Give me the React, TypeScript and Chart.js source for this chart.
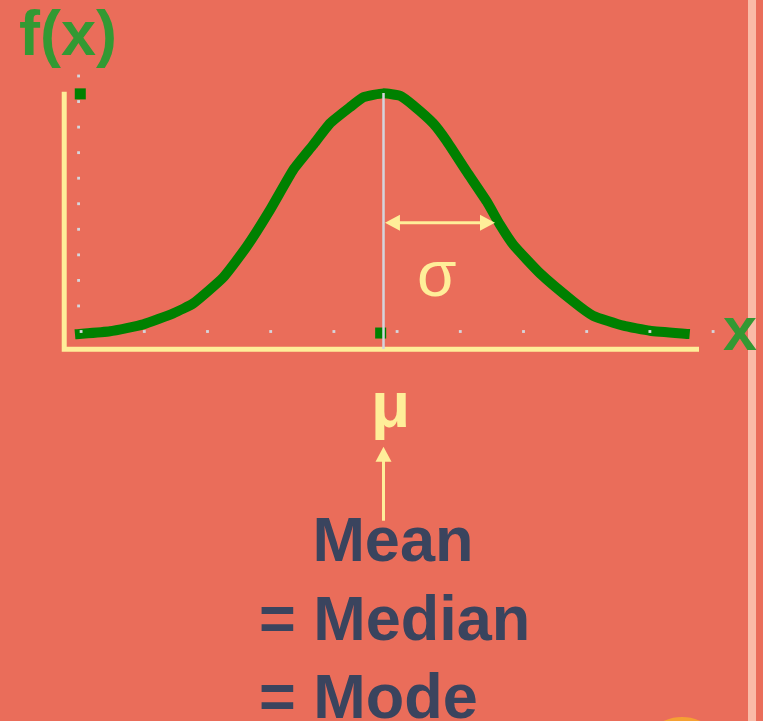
import React, { useEffect, useRef } from "react";
import { Chart, registerables } from "chart.js";

Chart.register(...registerables);

// ---- data (grid units: x ticks 0..10, y ticks 0..10) ----
const curveX = [-0.097, 0.457, 0.984, 1.459, 1.775, 2.25, 2.62, 2.99, 3.36, 3.67, 3.94, 4.25, 4.47, 4.78, 5.05, 5.26, 5.57, 5.78, 6.1, 6.42, 6.63, 6.84, 7.26, 7.79, 8.1, 8.58, 9.0, 9.63];
const curveY = [-0.11, 0.01, 0.28, 0.71, 1.1, 2.12, 3.32, 4.76, 6.34, 7.3, 8.15, 8.77, 9.17, 9.32, 9.22, 8.84, 8.15, 7.47, 6.26, 5.08, 4.17, 3.39, 2.28, 1.17, 0.62, 0.23, 0.03, -0.1];

const markerX = [-0.013, 4.74];
const markerY = [9.3, -0.06];

const gridDotX = [0, 1, 2, 3, 4, 5, 6, 7, 8, 9, 10];
const gridDotY = [1, 2, 3, 4, 5, 6, 7, 8, 9, 10];
const gridDotColumnX = -0.04;

const meanLineX = [4.785, 4.785];
const meanLineY = [9.335, -0.685];

const axisLineX = [-0.267, -0.267, 9.777];
const axisLineY = [9.386, -0.693, -0.693];

const sigmaArrowX = [4.808, 6.549];
const sigmaArrowY = [4.258, 4.258];
const muArrowX = [4.785, 4.785];
const muArrowY = [-7.405, -4.509];

const labelFx = "f(x)";
const labelX = "x";
const labelSigma = "σ";
const labelMu = "μ";
const labelLines = ["Mean", "= Median", "= Mode"];

// ---- styles ----
const BG = "#EA6D5A";
const YELLOW = "#FFEE99";
const GREEN = "#008000";
const TEXT_GREEN = "#339933";
const NAVY = "#3A445E";
const FONT = "'Liberation Sans', Arial, sans-serif";

const toPts = (xs: number[], ys: number[]) => xs.map((x, i) => ({ x, y: ys[i] }));

const arrowPlugin = {
  id: "arrows",
  afterDatasetsDraw(chart: any) {
    const { ctx } = chart;
    const sx = chart.scales.x;
    const sy = chart.scales.y;
    const headLen = 15;
    const headHalf = 8;
    const drawArrow = (xs: number[], ys: number[], both: boolean) => {
      const x0 = sx.getPixelForValue(xs[0]);
      const y0 = sy.getPixelForValue(ys[0]);
      const x1 = sx.getPixelForValue(xs[1]);
      const y1 = sy.getPixelForValue(ys[1]);
      const len = Math.hypot(x1 - x0, y1 - y0);
      const ux = (x1 - x0) / len;
      const uy = (y1 - y0) / len;
      ctx.save();
      ctx.strokeStyle = YELLOW;
      ctx.fillStyle = YELLOW;
      ctx.lineWidth = 3;
      ctx.beginPath();
      ctx.moveTo(both ? x0 + ux * headLen * 0.5 : x0, both ? y0 + uy * headLen * 0.5 : y0);
      ctx.lineTo(x1 - ux * headLen * 0.5, y1 - uy * headLen * 0.5);
      ctx.stroke();
      const head = (tx: number, ty: number, dx: number, dy: number) => {
        ctx.beginPath();
        ctx.moveTo(tx, ty);
        ctx.lineTo(tx - dx * headLen - dy * headHalf, ty - dy * headLen + dx * headHalf);
        ctx.lineTo(tx - dx * headLen + dy * headHalf, ty - dy * headLen - dx * headHalf);
        ctx.closePath();
        ctx.fill();
      };
      head(x1, y1, ux, uy);
      if (both) head(x0, y0, -ux, -uy);
      ctx.restore();
    };
    drawArrow(sigmaArrowX, sigmaArrowY, true);
    drawArrow(muArrowX, muArrowY, false);
  },
};

function Label(props: { text: string; left: number; baseline: number; size: number; weight: number; color: string }) {
  const { text, left, baseline, size, weight, color } = props;
  return (
    <div
      style={{
        position: "absolute",
        left,
        top: baseline - 0.8465 * size,
        fontSize: size,
        lineHeight: `${size}px`,
        fontWeight: weight,
        color,
        whiteSpace: "pre",
        fontFamily: FONT,
      }}
    >
      {text}
    </div>
  );
}

export default function App() {
  const ref = useRef<HTMLCanvasElement>(null);

  useEffect(() => {
    const dots = [
      ...gridDotX.map((x) => ({ x, y: 0 })),
      ...gridDotY.map((y) => ({ x: gridDotColumnX, y })),
    ];
    const chart = new Chart(ref.current as HTMLCanvasElement, {
      type: "line",
      data: {
        datasets: [
          {
            label: "mean",
            data: toPts(meanLineX, meanLineY),
            borderColor: "#D4D4DC",
            borderWidth: 2.5,
            pointRadius: 0,
            clip: false as any,
          },
          {
            label: "grid",
            data: dots,
            showLine: false,
            pointStyle: "rect",
            pointRadius: 2,
            pointBackgroundColor: "#D6D6DC",
            pointBorderWidth: 0,
            clip: false as any,
          },
          {
            label: "markers",
            data: toPts(markerX, markerY),
            showLine: false,
            pointStyle: "rect",
            pointRadius: 7.8,
            pointBackgroundColor: GREEN,
            pointBorderWidth: 0,
            clip: false as any,
          },
          {
            label: "f(x)",
            data: toPts(curveX, curveY),
            borderColor: GREEN,
            borderWidth: 10,
            pointRadius: 0,
            tension: 0.15,
            borderCapStyle: "butt",
            borderJoinStyle: "round",
            clip: false as any,
          },
          {
            label: "axes",
            data: toPts(axisLineX, axisLineY),
            borderColor: YELLOW,
            borderWidth: 5,
            pointRadius: 0,
            borderJoinStyle: "miter",
            borderCapStyle: "butt",
            clip: false as any,
          },
        ],
      },
      options: {
        responsive: false,
        animation: false,
        events: [],
        layout: { padding: 0, autoPadding: false },
        plugins: { legend: { display: false }, tooltip: { enabled: false } },
        scales: {
          x: { type: "linear", min: -1.2832, max: 10.7896, display: false },
          y: { type: "linear", min: -15.2446, max: 12.9746, display: false },
        },
      },
      plugins: [arrowPlugin],
    });
    return () => chart.destroy();
  }, []);

  return (
    <div
      style={{
        position: "absolute",
        left: 0,
        top: 0,
        width: 763,
        height: 721,
        background: BG,
        overflow: "hidden",
        fontFamily: FONT,
      }}
    >
      <div style={{ position: "absolute", left: 748, top: 0, width: 8, height: 721, background: "#FABBA7" }} />
      <div
        style={{
          position: "absolute",
          left: 637,
          top: 717,
          width: 90,
          height: 90,
          borderRadius: "50%",
          background: "#F5A033",
        }}
      />
      <canvas ref={ref} width={763} height={721} style={{ position: "absolute", left: 0, top: 0 }} />
      <Label text={labelFx} left={19} baseline={55.5} size={63} weight={700} color={TEXT_GREEN} />
      <Label text={labelX} left={723} baseline={350.7} size={61} weight={700} color={TEXT_GREEN} />
      <Label text={labelSigma} left={417} baseline={296} size={64} weight={400} color={YELLOW} />
      <Label text={labelMu} left={371} baseline={427} size={64} weight={700} color={YELLOW} />
      <Label text={labelLines[0]} left={312.4} baseline={561.7} size={63} weight={700} color={NAVY} />
      <Label text={labelLines[1]} left={259} baseline={640} size={63} weight={700} color={NAVY} />
      <Label text={labelLines[2]} left={259} baseline={718} size={63} weight={700} color={NAVY} />
    </div>
  );
}
